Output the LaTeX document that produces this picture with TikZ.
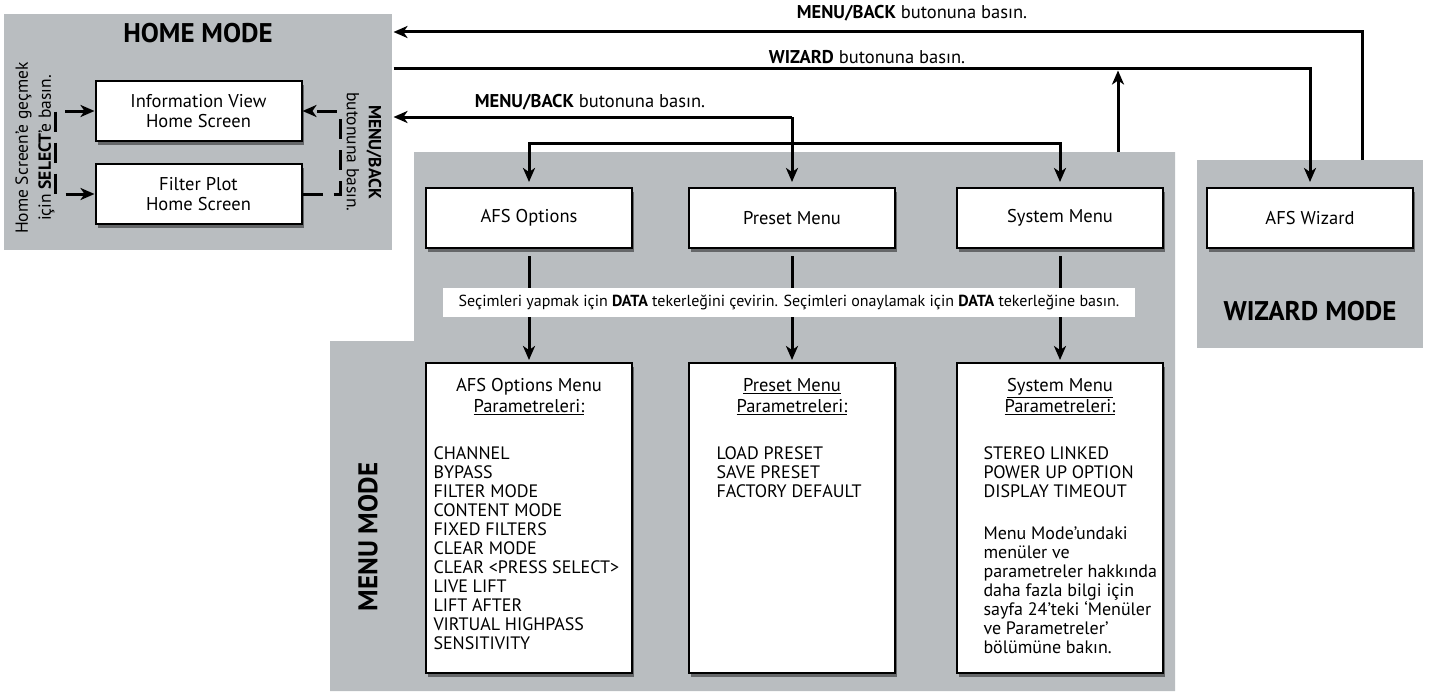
\documentclass[tikz,border=0pt]{standalone}
\usepackage{fontspec}
\setmainfont{PT Sans}
\usetikzlibrary{arrows.meta,positioning,shadows}

\definecolor{modegray}{RGB}{185,189,192}

\tikzset{
  screen/.style={draw, line width=2pt, fill=white, minimum width=206pt,
    minimum height=60pt, align=center, font=\fontsize{18.5}{20}\selectfont,
    drop shadow={shadow xshift=2pt, shadow yshift=-4pt, opacity=.45, fill=black}},
  menubox/.style={screen, minimum height=310pt},
  modebox/.style={fill=modegray, inner sep=0pt},
  modetitle/.style={font=\fontsize{27}{30}\selectfont\bfseries},
  note/.style={font=\fontsize{18.5}{21}\selectfont, inner sep=0pt},
  params/.style={font=\fontsize{18}{19}\selectfont, align=left, inner sep=0pt, anchor=north west},
  into/.style={->, shorten >=5pt},
  dashy/.style={line width=3pt, dash pattern=on 20pt off 11pt},
}

\begin{document}
\begin{tikzpicture}[x=1pt, y=-1pt, line width=3pt,
    >={Stealth[length=14pt, width=12pt, inset=4pt]}]
\useasboundingbox (0,0) rectangle (1437,693);

% mode areas
\node[modebox, minimum width=388pt, minimum height=236pt] (homeMode) at (198,132) {};
\node[modebox, minimum width=226pt, minimum height=188pt] (wizardMode) at (1310,254) {};
\fill[modegray] (414,152) -- (1175,152) -- (1175,691) -- (330,691) -- (330,341) -- (414,341) -- cycle;

\node[modetitle] (homeTitle) at (198,33) {HOME MODE};
\node[modetitle] (wizardTitle) at (1310,311) {WIZARD MODE};
\node[modetitle, rotate=90] (menuTitle) at (368,537) {MENU MODE};

% screens
\node[screen] (infoView) at (198.5,111) {Information View\\Home Screen};
\node[screen] (filterPlot) at (198.5,194) {Filter Plot\\Home Screen};
\node[screen] (afsOpt) at (529,218) {AFS Options};
\node[screen] (presetOpt) at (792,218) {Preset Menu};
\node[screen] (systemOpt) at (1060,218) {System Menu};
\node[screen] (wizardBox) at (1310,218) {AFS Wizard};

% parameter lists
\node[menubox] (afsMenu) at (529,518) {};
\node[menubox] (presetMenu) at (792,518) {};
\node[menubox] (systemMenu) at (1060,518) {};

\node[note, align=center, below=15pt of afsMenu.north] (afsHead) {AFS Options Menu\\\underline{Parametreleri:}};
\node[note, align=center, below=15pt of presetMenu.north] (presetHead) {\underline{Preset Menu}\\\underline{Parametreleri:}};
\node[note, align=center, below=15pt of systemMenu.north] (systemHead) {\underline{System Menu}\\\underline{Parametreleri:}};

\node[params] (afsList) at ([xshift=7pt, yshift=-83pt]afsMenu.north west)
  {CHANNEL\\BYPASS\\FILTER MODE\\CONTENT MODE\\FIXED FILTERS\\CLEAR MODE\\CLEAR <PRESS SELECT>\\LIVE LIFT\\LIFT AFTER\\VIRTUAL HIGHPASS\\SENSITIVITY};
\node[params] (presetList) at ([xshift=27pt, yshift=-83pt]presetMenu.north west)
  {LOAD PRESET\\SAVE PRESET\\FACTORY DEFAULT};
\node[params] (systemList) at ([xshift=26pt, yshift=-83pt]systemMenu.north west)
  {STEREO LINKED\\POWER UP OPTION\\DISPLAY TIMEOUT\\[23pt]Menu Mode’undaki\\menüler ve\\parametreler hakkında\\daha fazla bilgi için\\sayfa 24’teki ‘Menüler\\ve Parametreler’\\bölümüne bakın.};

% connectors
\coordinate (lvlBack) at (0,32);
\coordinate (lvlWiz) at (0,69);
\coordinate (lvlMid) at (0,117);
\coordinate (lvlBranch) at (0,143);
\coordinate (wizBack) at (1362,160);
\coordinate (menuUp) at (1118,152);
\coordinate (selCorner) at (55,194);
\coordinate (backCorner) at (340,111);

\draw[->] (wizBack) |- (homeMode.east |- lvlBack);
\draw[into] (homeMode.east |- lvlWiz) -| (wizardBox.north);
\draw[->, shorten >=1.5pt] (menuUp) -- (menuUp |- lvlWiz);
\draw[->] (presetOpt.north |- lvlMid) -- (homeMode.east |- lvlMid);
\draw[into] (presetOpt.north |- lvlMid) -- (presetOpt.north);
\draw[<->, shorten <=5pt, shorten >=5pt] (afsOpt.north) |- (systemOpt.north |- lvlBranch) -- (systemOpt.north);

\foreach \m in {afs,preset,system}
  \draw[->, shorten <=7pt, shorten >=2pt] (\m Opt.south) -- (\m Menu.north);

\draw[dashy, <->] (infoView.west) -| (selCorner) -- (filterPlot.west);
\draw[dashy, ->] (filterPlot.east) -| (backCorner) -- (infoView.east);

\node[fill=white, minimum width=692pt, minimum height=29pt, font=\fontsize{16}{18}\selectfont] (dataNote) at (789,302.5)
  {Seçimleri yapmak için \textbf{DATA} tekerleğini çevirin. Seçimleri onaylamak için \textbf{DATA} tekerleğine basın.};

% button labels
\node[note] (backTopLabel) at (912,13) {\textbf{MENU/BACK} butonuna basın.};
\node[note] (wizLabel) at (867,57) {\textbf{WIZARD} butonuna basın.};
\node[note] (backMidLabel) at (590,102) {\textbf{MENU/BACK} butonuna basın.};

\node[note, rotate=90, align=center, font=\fontsize{17.5}{23}\selectfont] (selectNote) at (35,148)
  {Home Screen’e geçmek\\için \textbf{SELECT}’e basın.};
\node[note, rotate=-90, align=center, font=\fontsize{17.5}{22}\selectfont] (backNote) at (364,152)
  {\textbf{MENU/BACK}\\butonuna basın.};
\end{tikzpicture}
\end{document}
